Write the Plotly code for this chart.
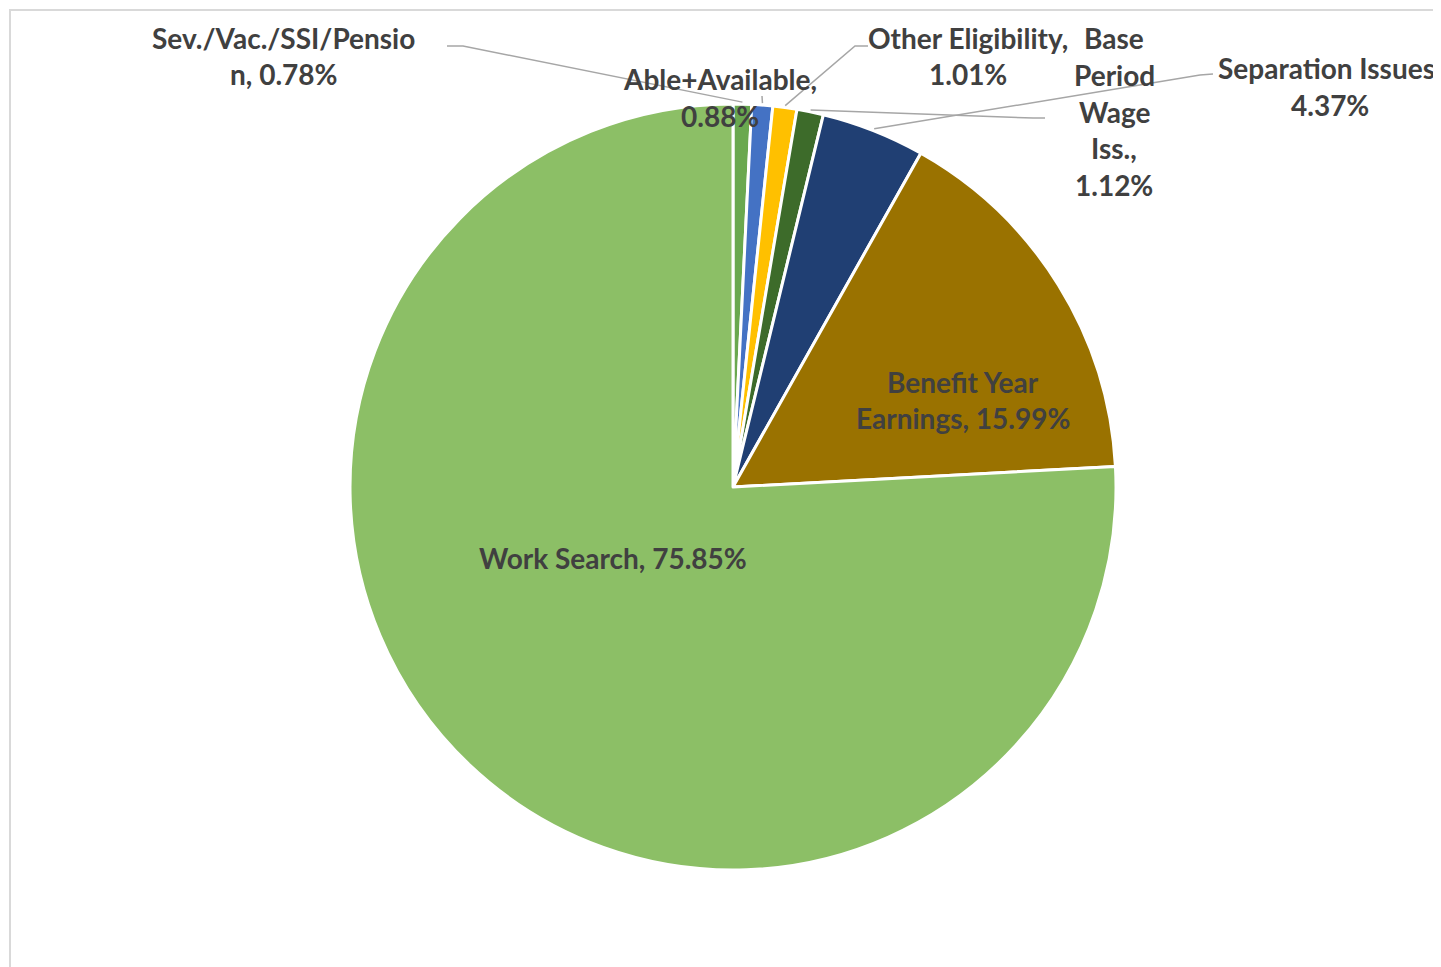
import math
import plotly.graph_objects as go

# ---- data ----
categories = ["Sev./Vac./SSI/Pension", "Able+Available", "Other Eligibility",
              "Base Period Wage Iss.", "Separation Issues",
              "Benefit Year Earnings", "Work Search"]
values = [0.78, 0.88, 1.01, 1.12, 4.37, 15.99, 75.85]
colors = ["#6AA84F", "#4472C4", "#FFC000", "#3D6B2A", "#203F73", "#9A7200", "#8CBF66"]

# ---- layout geometry (page pixels; page has 8px body margin) ----
W, H = 1441, 967
OFF = 8
cx, cy, R = 733, 487, 383

def px(x):
    return (x - OFF) / W

def py(y):
    return 1 - (y - OFF) / H

dom_x = [px(cx - R), px(cx + R)]
dom_y = [py(cy + R), py(cy - R)]

# label placement: (line breaks, centre x, first-line y, line spacing, leader path start points)
label_layout = {
    "Sev./Vac./SSI/Pension": ([20], 283, 38, 36, [(447, 46), (463, 46)]),
    "Able+Available": ([15], 720, 79, 37, [(762, 96)]),
    "Other Eligibility": ([18], 968, 38, 36, [(868, 46), (855, 46)]),
    "Base Period Wage Iss.": ("words", 1114, 38, 36.8, [(1045, 118), (1033, 118)]),
    "Separation Issues": ([18], 1330, 68, 37, [(1213, 74), (1200, 75)]),
    "Benefit Year Earnings": ([12], 963, 382, 36, None),
    "Work Search": ([], 613, 558, 36, None),
}

def split_text(s, breaks):
    if breaks == "words":
        return s.split(" ")
    parts, last = [], 0
    for b in breaks:
        parts.append(s[last:b].strip())
        last = b
    parts.append(s[last:].strip())
    return parts

fig = go.Figure(go.Pie(
    labels=categories, values=values, sort=False, direction="clockwise",
    rotation=0, textinfo="none", hoverinfo="label+percent",
    marker=dict(colors=colors, line=dict(color="white", width=3)),
    domain=dict(x=dom_x, y=dom_y), showlegend=False,
))

font = dict(family="Lato, Carlito, sans-serif", size=28, color="#404040")
annotations, shapes = [], []
total = sum(values)
cum = 0.0
for cat, val in zip(categories, values):
    breaks, lx, ly, sp, leader = label_layout[cat]
    lines = split_text(f"{cat}, {val:.2f}%", breaks)
    for i, ln in enumerate(lines):
        annotations.append(dict(
            text=f"<b>{ln}</b>", x=px(lx), y=py(ly + i * sp), xref="paper", yref="paper",
            xanchor="center", yanchor="middle", showarrow=False, font=font))
    if leader:
        a = math.radians((cum + val / 2) / total * 360)
        ex = cx + (R + 2) * math.sin(a)
        ey = cy - (R + 2) * math.cos(a)
        pts = leader + [(ex, ey)]
        path = "M " + " L ".join(f"{px(x):.5f},{py(y):.5f}" for x, y in pts)
        shapes.append(dict(type="path", path=path, xref="paper", yref="paper",
                           line=dict(color="#A6A6A6", width=1.5)))
    cum += val

shapes.append(dict(type="rect", xref="paper", yref="paper", x0=px(10), y0=-0.05,
                   x1=1.05, y1=py(10), line=dict(color="#D9D9D9", width=2), layer="below"))

fig.update_layout(width=W, height=H, margin=dict(l=0, r=0, t=0, b=0),
                  paper_bgcolor="white", plot_bgcolor="white",
                  annotations=annotations, shapes=shapes)
fig.write_html("out.html")
